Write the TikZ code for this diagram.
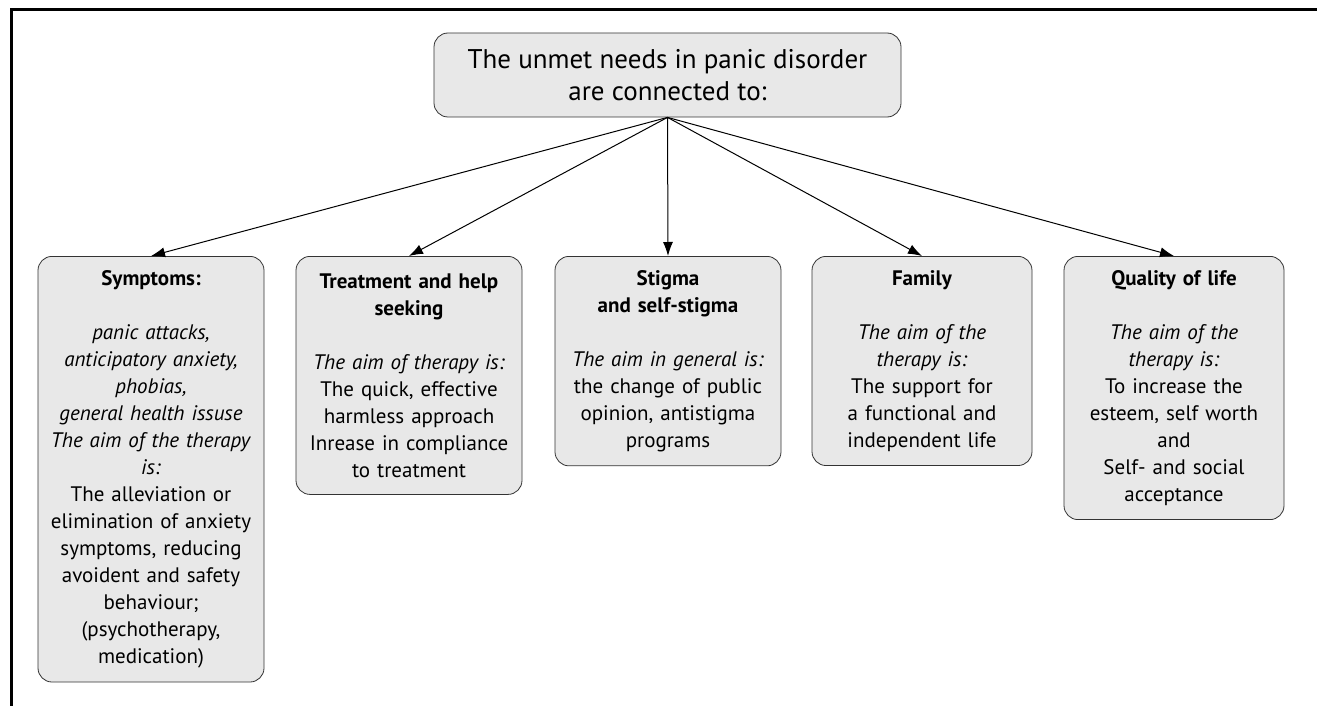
\documentclass[tikz,border=0pt]{standalone}
\usepackage{fontspec}
\setmainfont{PT Sans}
\usetikzlibrary{arrows.meta}
\usetikzlibrary{shapes}
\definecolor{boxGray}{HTML}{E8E8E8}

\begin{document}
\begin{tikzpicture}[x = 0.5pt, y = -0.5pt]
	\tikzstyle{rootStyle} = [draw = black!80, fill = boxGray, rounded corners = 7pt, minimum width = 233.5pt, minimum height = 42pt, align = center, font = \fontsize{13.5}{16}\selectfont]
	\tikzstyle{boxStyle} = [draw = black!80, fill = boxGray, rounded corners = 7pt, anchor = north, text width = 101pt, inner xsep = 6pt, inner ysep = 7pt, align = center, font = \fontsize{10.5}{13.5}\selectfont]
	\tikzstyle{edgeStyle} = [-{Latex[length = 7pt, width = 5pt]}, black, line width = 0.5pt]
	\useasboundingbox (0,0) rectangle (1317,706);
	\draw[line width = 1.5pt] (11,706) -- (11,10) -- (1317,10);
	\node[rootStyle] (v0) at (667.5,75) {The unmet needs in panic disorder\\are connected to:};
	\node[boxStyle] (v1) at (151,256) {\textbf{Symptoms:}\\[13.5pt]
		\textit{panic attacks,}\\ \textit{anticipatory anxiety,}\\ \textit{phobias,}\\ \textit{general health issuse}\\
		\textit{The aim of the therapy}\\ \textit{is:}\\ The alleviation or\\ elimination of anxiety\\ symptoms, reducing\\
		avoident and safety\\ behaviour;\\ (psychotherapy,\\ medication)};
	\node[boxStyle, minimum height = 119pt] (v2) at (409,256) {\textbf{Treatment and help}\\ \textbf{seeking}\\[13.5pt]
		\textit{The aim of therapy is:}\\ The quick, effective\\ harmless approach\\ Inrease in compliance\\ to treatment};
	\node[boxStyle] (v3) at (668,256) {\textbf{Stigma}\\ \textbf{and self-stigma}\\[13.5pt]
		\textit{The aim in general is:}\\ the change of public\\ opinion, antistigma\\ programs};
	\node[boxStyle, text width = 98pt] (v4) at (922,256) {\textbf{Family}\\[13.5pt]
		\textit{The aim of the}\\ \textit{therapy is:}\\ The support for\\ a functional and\\ independent life};
	\node[boxStyle, text width = 98pt] (v5) at (1174,256) {\textbf{Quality of life}\\[13.5pt]
		\textit{The aim of the}\\ \textit{therapy is:}\\ To increase the\\ esteem, self worth\\ and\\ Self- and social\\ acceptance};
	\draw[edgeStyle] (v0.south) -- (v1.north);
	\draw[edgeStyle] (v0.south) -- (v2.north);
	\draw[edgeStyle] (v0.south) -- (v3.north);
	\draw[edgeStyle] (v0.south) -- (v4.north);
	\draw[edgeStyle] (v0.south) -- (v5.north);
\end{tikzpicture}
\end{document}
